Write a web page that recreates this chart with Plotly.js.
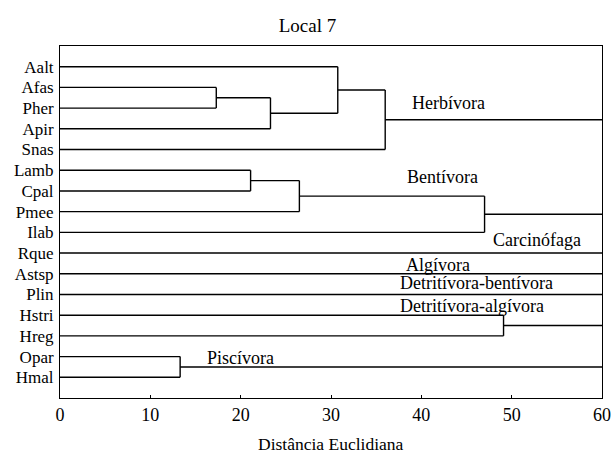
<!DOCTYPE html>
<html>
<head>
<meta charset="utf-8">
<script src="https://cdn.plot.ly/plotly-3.0.1.min.js"></script>
<style>html,body{margin:0;padding:0;background:#fff}#chart{width:615px;height:454px}</style>
</head>
<body>
<div id="chart"></div>
<script>
// Leaves (top to bottom)
const leaves = ["Aalt","Afas","Pher","Apir","Snas","Lamb","Cpal","Pmee","Ilab","Rque","Astsp","Plin","Hstri","Hreg","Opar","Hmal"];
// Merges: child A, child B (ids: leaves 0..15, then merge nodes 16..), height (Euclidean distance)
const mergeA = [1, 16, 0, 18, 5, 20, 21, 12, 14];
const mergeB = [2, 3, 17, 4, 6, 7, 8, 13, 15];
const mergeH = [17.3, 23.3, 30.75, 36.0, 21.1, 26.5, 47.0, 49.1, 13.3];
// Roots extended to the right edge
const roots = [19, 22, 9, 10, 11, 23, 24];
const xMax = 60;
// Group labels
const groupNames = ["Herbívora","Bentívora","Carcinófaga","Algívora","Detritívora-bentívora","Detritívora-algívora","Piscívora"];
const groupX = [38.7, 38.2, 47.7, 38.1, 37.4, 37.4, 16.1];
const groupY = [2.75, 6.33, 9.37, 10.6, 11.45, 12.56, 15.07];

const nodeX = leaves.map(() => 0);
const nodeY = leaves.map((_, i) => i + 1);
const xs = [], ys = [];
function seg(x0, y0, x1, y1) { xs.push(x0, x1, null); ys.push(y0, y1, null); }
for (let k = 0; k < mergeA.length; k++) {
  const a = mergeA[k], b = mergeB[k], h = mergeH[k];
  seg(nodeX[a], nodeY[a], h, nodeY[a]);
  seg(nodeX[b], nodeY[b], h, nodeY[b]);
  seg(h, nodeY[a], h, nodeY[b]);
  nodeX.push(h);
  nodeY.push((nodeY[a] + nodeY[b]) / 2);
}
roots.forEach(r => seg(nodeX[r], nodeY[r], xMax, nodeY[r]));

const font = "'Liberation Serif', 'Times New Roman', serif";
const trace = {
  x: xs, y: ys, mode: "lines", type: "scatter",
  line: {color: "#000", width: 1.4}, hoverinfo: "skip", cliponaxis: false, showlegend: false
};
const annotations = groupNames.map((t, i) => ({
  text: t, x: groupX[i], y: groupY[i], xref: "x", yref: "y",
  xanchor: "left", yanchor: "middle", showarrow: false,
  font: {family: font, size: 18, color: "#000"}
}));
annotations.push({
  text: "Distância Euclidiana", xref: "paper", yref: "paper", x: 0.5, y: -46/352,
  xanchor: "center", yanchor: "middle", showarrow: false,
  font: {family: font, size: 17.5, color: "#000"}
});
const layout = {
  width: 615, height: 454,
  margin: {l: 60, r: 13, t: 46, b: 56},
  paper_bgcolor: "#fff", plot_bgcolor: "#fff",
  font: {family: font, color: "#000"},
  title: {text: "Local 7", x: 0.5, xref: "container", xanchor: "center",
          y: 1 - 25/454, yref: "container", yanchor: "middle",
          font: {family: font, size: 19, color: "#000"}},
  xaxis: {range: [0, 60], tickvals: [0,10,20,30,40,50,60], ticks: "inside", ticklen: 3,
          tickcolor: "#000", showgrid: false, zeroline: false, showline: true, mirror: true,
          linecolor: "#000", linewidth: 1, tickfont: {family: font, size: 18, color: "#000"}},
  yaxis: {range: [17, 0], tickvals: leaves.map((_, i) => i + 1), ticktext: leaves, ticks: "",
          showgrid: false, zeroline: false, showline: true, mirror: true, linecolor: "#000", linewidth: 1,
          ticklabelstandoff: 2, tickfont: {family: font, size: 17, color: "#000"}},
  annotations: annotations
};
Plotly.newPlot("chart", [trace], layout, {displayModeBar: false, staticPlot: true});
</script>
</body>
</html>
